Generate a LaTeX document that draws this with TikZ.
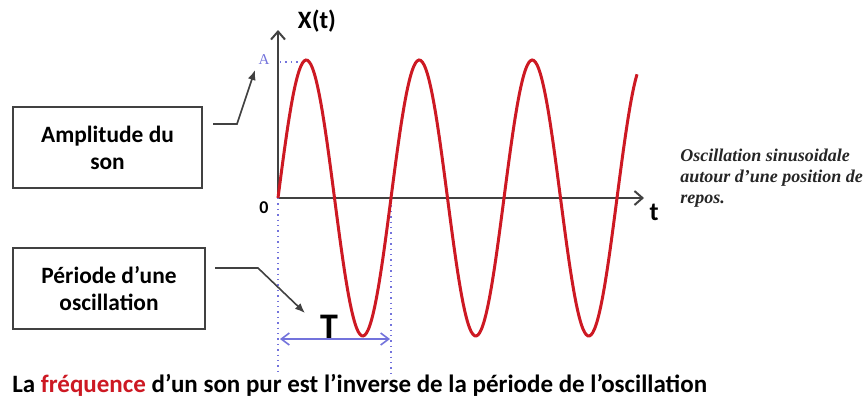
\documentclass[tikz,border=0pt]{standalone}
\usepackage{fontspec}
\setmainfont{Carlito}
\newfontfamily\notefont{Liberation Serif}
\usepackage{xcolor}
\usetikzlibrary{arrows.meta,positioning}
\definecolor{wavered}{RGB}{205,25,35}
\definecolor{dotblue}{RGB}{115,115,220}
\definecolor{axisgray}{RGB}{65,65,65}

\begin{document}
\begin{tikzpicture}[x=0.5pt,y=-0.5pt,>=Stealth,
 box/.style={draw=axisgray,line width=1.2pt,minimum height=40.5pt,align=center,inner sep=0pt,font=\bfseries\fontsize{11.7}{13.5}\selectfont},
 axis/.style={-{Straight Barb[length=4pt,width=7pt]},draw=axisgray,line width=1pt},
 wave/.style={draw=wavered,line width=1.5pt},
 guide/.style={draw=dotblue,dotted,line width=0.7pt},
 link/.style={-{Latex[length=5pt,width=4pt]},draw=axisgray,line width=0.8pt},
 lbl/.style={font=\bfseries\fontsize{12.5}{14}\selectfont,inner sep=0pt}]
 \useasboundingbox[fill=white] (0,0) rectangle (866,412);
 % axes
 \coordinate (O) at (278,198);
 \coordinate (ytop) at (278,30);
 \coordinate (xend) at (644,198);
 \draw[axis] (O) -- (ytop);
 \draw[axis] (O) -- (xend);
 \node[lbl] (xlab) at (317,21) {X(t)};
 \node[lbl,font=\bfseries\fontsize{13}{14}\selectfont] (tlab) at (654,212) {t};
 \node[lbl,font=\bfseries\fontsize{9}{10}\selectfont] (zero) at (264,208) {0};
 % guides
 \coordinate (peak) at (306,62);
 \coordinate (lowleft) at (278,374);
 \coordinate (rightup) at (391,200);
 \coordinate (lowright) at (391,374);
 \node[text=dotblue,font=\notefont\fontsize{7.5}{8}\selectfont,inner sep=0pt] (alab) at (264,60) {A};
 \draw[guide] (280,62) -- (peak);
 \draw[guide] (O) -- (lowleft);
 \draw[guide] (rightup) -- (lowright);
 % sine
 \draw[wave] plot[domain=0:359,samples=220,smooth] ({278+\x},{198-138*sin(\x/113*360)});
 % period
 \coordinate (pstart) at (280,339);
 \coordinate (pend) at (390,339);
 \draw[draw=dotblue,line width=0.8pt,{Straight Barb[length=4pt,width=6pt]}-{Straight Barb[length=4pt,width=6pt]}] (pstart) -- (pend);
 \node[lbl,font=\bfseries\fontsize{18}{20}\selectfont] (Tlab) at (329,327) {T};
 % boxes
 \node[box,minimum width=94.5pt] (ampbox) at (107.5,147.5) {Amplitude du\\son};
 \node[box,minimum width=96pt] (perbox) at (109,288.5) {Période d’une\\oscillation};
 \coordinate (ampfrom) at (213,124);
 \coordinate (amptip) at (255,70);
 \coordinate (perfrom) at (215,268);
 \coordinate (pertip) at (305,313);
 \draw[link] (ampfrom) -- ++(24,0) -- (amptip);
 \draw[link] (perfrom) -- ++(43,0) -- (pertip);
 % note and caption
 \node[anchor=north west,align=left,inner sep=0pt,text=black!85,font=\notefont\bfseries\itshape\fontsize{9}{10.5}\selectfont] (note) at (680,149) {Oscillation sinusoidale\\autour d’une position de\\repos.};
 \node[anchor=west,inner sep=0pt,font=\bfseries\fontsize{12.5}{14}\selectfont] (caption) at (12,385) {La \textcolor{wavered}{fréquence} d’un son pur est l’inverse de la période de l’oscillation};
\end{tikzpicture}
\end{document}
